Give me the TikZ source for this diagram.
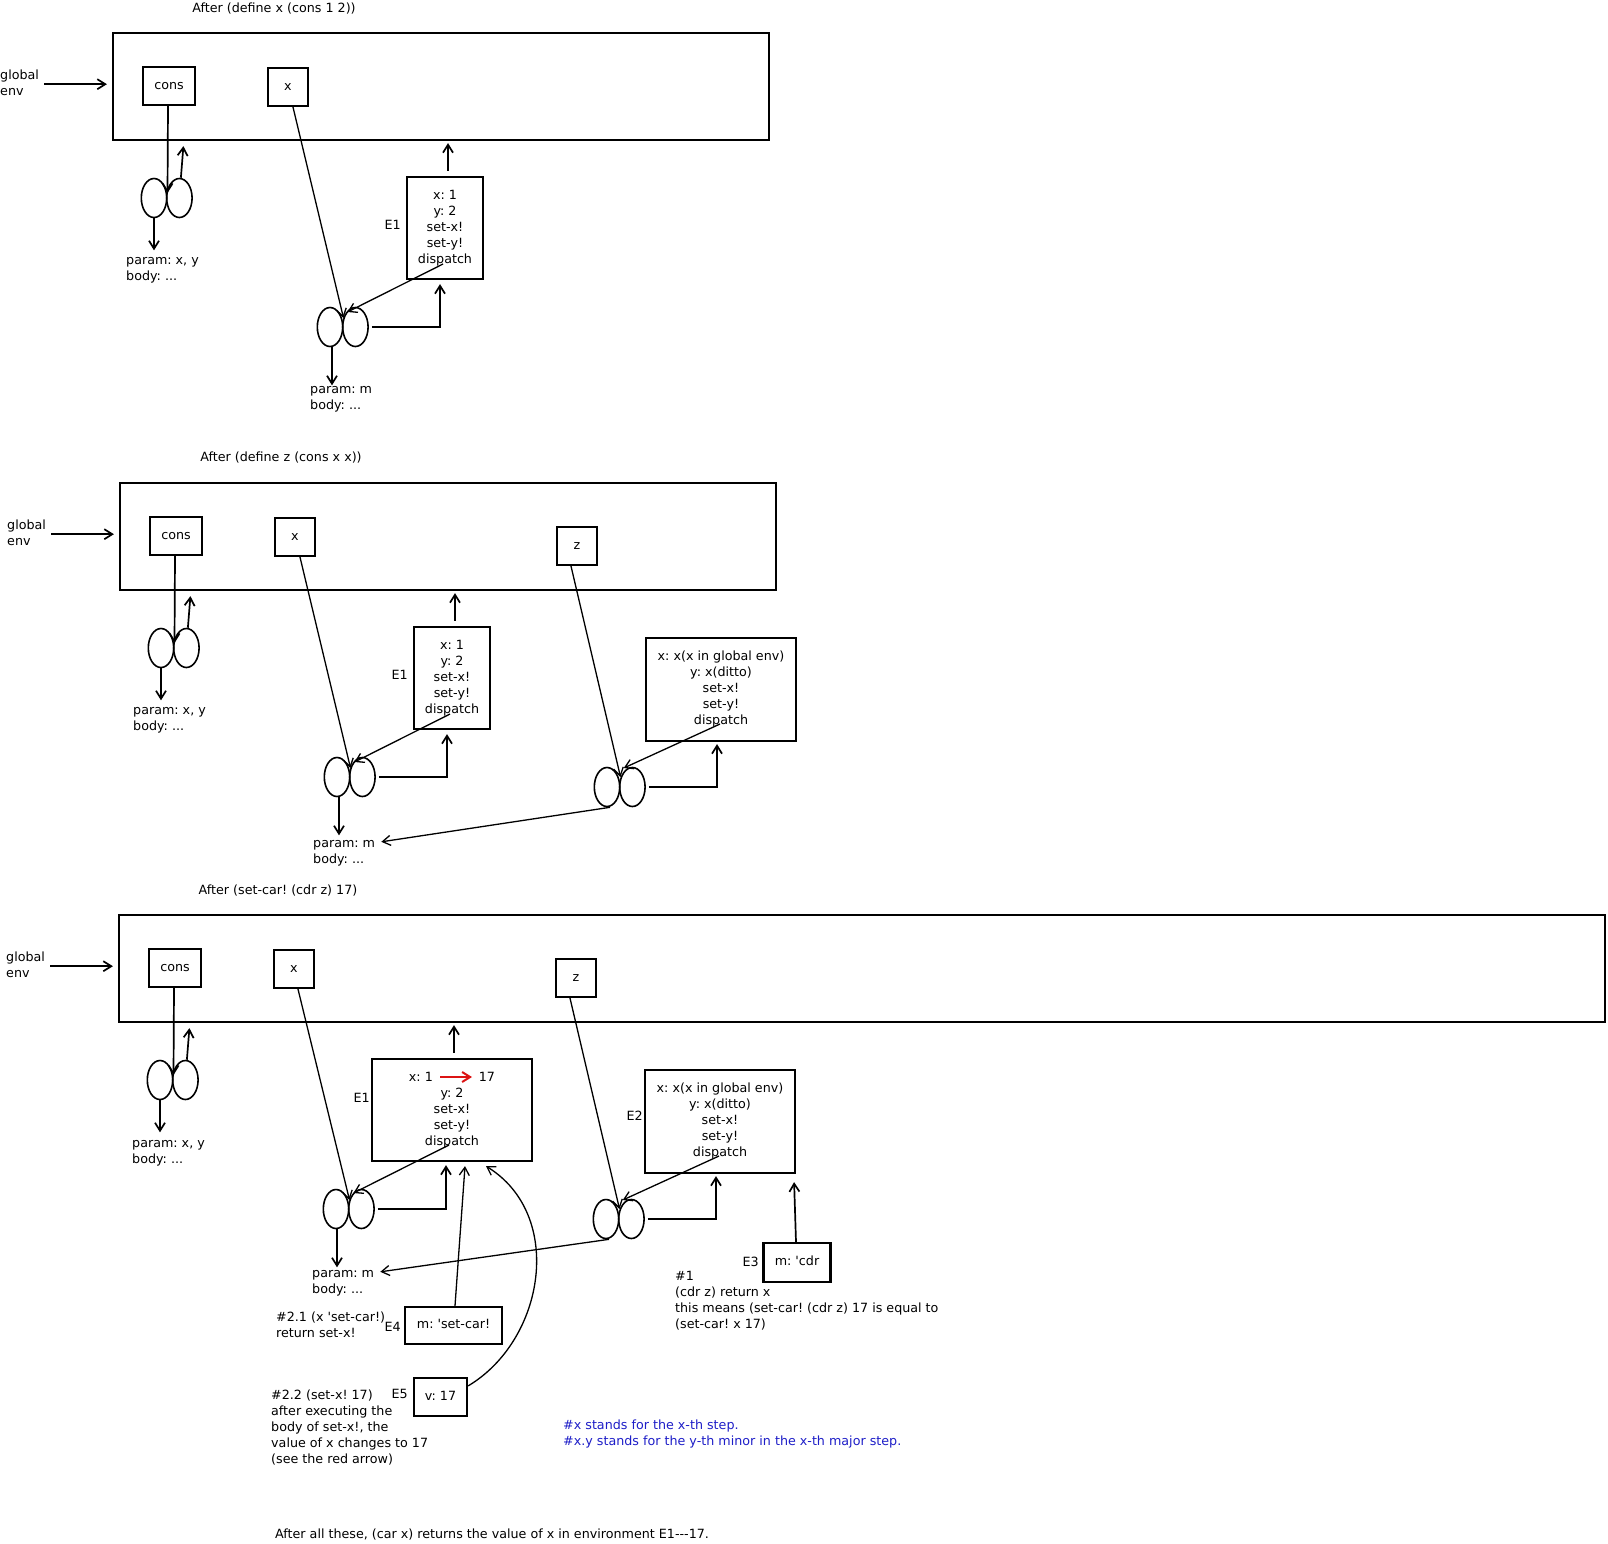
\documentclass[tikz,border=0pt]{standalone}
\usepackage{fontspec}
\newfontfamily\dvfam{DejaVu Sans}
\newcommand\diagfont{\dvfam\fontsize{12.7}{16}\selectfont\frenchspacing}
\usetikzlibrary{arrows.meta,shapes.geometric,calc}
\definecolor{noteblue}{RGB}{30,30,200}
\definecolor{arrred}{RGB}{220,20,20}
\begin{document}
\begin{tikzpicture}[x=1pt,y=-1pt,
  every node/.style={font=\diagfont, text=black},
  box/.style={draw, line width=2.2pt, inner sep=0pt, align=center},
  env/.style={draw, line width=2.2pt, inner sep=0pt},
  cell/.style={draw, ellipse, line width=1.6pt, minimum width=25.4pt, minimum height=39pt, inner sep=0pt},
  txt/.style={inner sep=0pt, anchor=north west, align=left},
  lbl/.style={inner sep=0pt, anchor=east},
  ttl/.style={inner sep=0pt, anchor=base},
  arr/.style={-{Straight Barb[length=8pt,width=10pt]}, line width=1.7pt},
  tarr/.style={-{Straight Barb[length=8pt,width=10pt]}, line width=1.3pt},
]
\fill[white] (0,0) rectangle (1608,1543);
\useasboundingbox (0,0) rectangle (1608,1543);

%================ Panel 1 ================
\node[ttl] (t1) at (274,12) {After (define x (cons 1 2))};
\node[env, minimum width=656pt, minimum height=107pt] (g1) at (441,86.5) {};
\node[txt] (ge1) at (0,68) {\strut global\\env\strut};
\draw[arr, shorten >=5pt] ($(ge1.east)+(5,0)$) -- (ge1.east -| g1.west);
\node[box, minimum width=52pt, minimum height=38pt] (c1) at (169,86) {\strut cons};
\node[box, minimum width=40pt, minimum height=38pt] (x1) at (288,87) {\strut x};
\node[cell] (a1l) at (154,198) {};
\node[cell] (a1r) at (179.4,198) {};
\draw[arr] ($(c1.south)+(-1,0)$) -- ($(a1l.east)+(0,-5)$);
\draw[arr] ($(a1r.north)+(1.5,0)$) -- ($(a1r.north |- g1.south)+(4,5)$);
\draw[arr] (a1l.south) -- ++(0,32);
\node[txt] (p1) at (126,253.5) {\strut param: x, y\\body: ...\strut};
\node[box, minimum width=76pt, minimum height=102pt] (e1) at (445,228) {\strut x: 1\\y: 2\\set-x!\\set-y!\\dispatch\strut};
\node[lbl] (l1) at (401,225) {E1};
\draw[arr, shorten >=2pt] ($(e1.north)+(3,-5)$) -- ($(e1.north |- g1.south)+(3,0)$);
\node[cell] (b1l) at (330,327) {};
\node[cell] (b1r) at (355.4,327) {};
\draw[tarr] ($(x1.south)+(5,0)$) -- ($(b1l.east)+(0,-9)$);
\draw[tarr] ($(e1.center)+(-2,36)$) -- ($(b1l.east)+(4,-15)$);
\draw[arr] ($(b1r.east)+(3,0)$) -| ($(e1.south)+(-5,4)$);
\draw[arr] ($(b1l.south)+(2,0)$) -- ++(0,38);
\node[txt] (p2) at (310,381.8) {\strut param: m\\body: ...\strut};

%================ Panel 2 ================
\node[ttl] (t2) at (281,461.5) {After (define z (cons x x))};
\node[env, minimum width=656pt, minimum height=107pt] (g2) at (448,536.5) {};
\node[txt] (ge2) at (7,518) {\strut global\\env\strut};
\draw[arr, shorten >=5pt] ($(ge2.east)+(5,0)$) -- (ge2.east -| g2.west);
\node[box, minimum width=52pt, minimum height=38pt] (c2) at (176,536) {\strut cons};
\node[box, minimum width=40pt, minimum height=38pt] (x2) at (295,537) {\strut x};
\node[box, minimum width=40pt, minimum height=38pt] (z2) at (577,546) {\strut z};
\node[cell] (a2l) at (161,648) {};
\node[cell] (a2r) at (186.4,648) {};
\draw[arr] ($(c2.south)+(-1,0)$) -- ($(a2l.east)+(0,-5)$);
\draw[arr] ($(a2r.north)+(1.5,0)$) -- ($(a2r.north |- g2.south)+(4,5)$);
\draw[arr] (a2l.south) -- ++(0,32);
\node[txt] (p3) at (133,703.5) {\strut param: x, y\\body: ...\strut};
\node[box, minimum width=76pt, minimum height=102pt] (e1b) at (452,678) {\strut x: 1\\y: 2\\set-x!\\set-y!\\dispatch\strut};
\node[lbl] (l1b) at (408,675) {E1};
\draw[arr, shorten >=2pt] ($(e1b.north)+(3,-5)$) -- ($(e1b.north |- g2.south)+(3,0)$);
\node[cell] (b2l) at (337,777) {};
\node[cell] (b2r) at (362.4,777) {};
\draw[tarr] ($(x2.south)+(5,0)$) -- ($(b2l.east)+(0,-9)$);
\draw[tarr] ($(e1b.center)+(-2,36)$) -- ($(b2l.east)+(4,-15)$);
\draw[arr] ($(b2r.east)+(3,0)$) -| ($(e1b.south)+(-5,4)$);
\draw[arr] ($(b2l.south)+(2,0)$) -- ++(0,38);
\node[txt] (p4) at (313,835.8) {\strut param: m\\body: ...\strut};
\node[cell] (d2l) at (607,787) {};
\node[cell] (d2r) at (632.4,787) {};
\node[box, minimum width=150pt, minimum height=103pt] (e2b) at (721,689.5) {\strut x: x(x in global env)\\y: x(ditto)\\set-x!\\set-y!\\dispatch\strut};
\draw[tarr] ($(z2.south)+(-6,0)$) -- ($(d2l.east)+(0,-10)$);
\draw[tarr] ($(e2b.center)+(-1,34.5)$) -- ($(d2l.east)+(3.3,-19)$);
\draw[arr] ($(d2r.east)+(3,0)$) -| ($(e2b.south)+(-4,2)$);
\draw[tarr] ($(d2l.south)+(3,0)$) -- ($(p4.north east)+(6,6)$);

%================ Panel 3 ================
\node[ttl] (t3) at (278,894.5) {After (set-car! (cdr z) 17)};
\node[env, minimum width=1486pt, minimum height=107pt] (g3) at (862,968.5) {};
\node[txt] (ge3) at (6,950) {\strut global\\env\strut};
\draw[arr, shorten >=5pt] ($(ge3.east)+(5,0)$) -- (ge3.east -| g3.west);
\node[box, minimum width=52pt, minimum height=38pt] (c3) at (175,968) {\strut cons};
\node[box, minimum width=40pt, minimum height=38pt] (x3) at (294,969) {\strut x};
\node[box, minimum width=40pt, minimum height=38pt] (z3) at (576,978) {\strut z};
\node[cell] (a3l) at (160,1080) {};
\node[cell] (a3r) at (185.4,1080) {};
\draw[arr] ($(c3.south)+(-1,0)$) -- ($(a3l.east)+(0,-5)$);
\draw[arr] ($(a3r.north)+(1.5,0)$) -- ($(a3r.north |- g3.south)+(4,5)$);
\draw[arr] (a3l.south) -- ++(0,32);
\node[txt] (p5) at (132,1135.8) {\strut param: x, y\\body: ...\strut};
\node[box, minimum width=160pt, minimum height=102pt] (e3) at (452,1110) {\strut x: 1\hspace{46pt}17\\y: 2\\set-x!\\set-y!\\dispatch\strut};
\node[lbl] (l3) at (370,1098) {E1};
\coordinate (ra1) at ($(e3.center)+(-12,-33)$);
\coordinate (ra2) at ($(e3.center)+(20,-33)$);
\draw[-{Straight Barb[length=8pt,width=10pt]}, line width=2pt, arrred] (ra1) -- (ra2);
\draw[arr, shorten >=2pt] ($(e3.north)+(2,-5)$) -- ($(e3.north |- g3.south)+(2,0)$);
\node[cell] (b3l) at (336,1209) {};
\node[cell] (b3r) at (361.4,1209) {};
\draw[tarr] ($(x3.south)+(4,0)$) -- ($(b3l.east)+(0,-9)$);
\draw[tarr] ($(e3.center)+(-3,35)$) -- ($(b3l.east)+(4,-16)$);
\draw[arr] ($(b3r.east)+(3,0)$) -| ($(e3.south)+(-6,3)$);
\draw[arr] ($(b3l.south)+(1,0)$) -- ++(0,38);
\node[txt] (p6) at (312,1265.8) {\strut param: m\\body: ...\strut};
\node[cell] (d3l) at (606,1219) {};
\node[cell] (d3r) at (631.4,1219) {};
\node[box, minimum width=150pt, minimum height=103pt] (e4) at (720,1121.5) {\strut x: x(x in global env)\\y: x(ditto)\\set-x!\\set-y!\\dispatch\strut};
\node[lbl] (l4) at (643,1116) {E2};
\draw[tarr] ($(z3.south)+(-6,0)$) -- ($(d3l.east)+(0,-10)$);
\draw[tarr] ($(e4.center)+(-1,34.5)$) -- ($(d3l.east)+(3.3,-19)$);
\draw[arr] ($(d3r.east)+(3,0)$) -| ($(e4.south)+(-4,2)$);
\draw[tarr] ($(d3l.south)+(3,0)$) -- ($(p6.north east)+(6,6)$);

\node[box, minimum width=67pt, minimum height=39pt] (e5) at (797,1262.5) {\strut m: 'cdr};
\node[lbl] (l5) at (759,1262) {E3};
\draw[arr] ($(e5.north)+(-1,0)$) -- ($(e4.south east)+(-2,8)$);
\node[txt] (n1) at (675,1268.8) {\strut\#1\\(cdr z) return x\\this means (set-car! (cdr z) 17 is equal to\\(set-car! x 17)\strut};

\node[box, minimum width=97pt, minimum height=37pt] (e6) at (453.5,1325.5) {\strut m: 'set-car!};
\node[lbl] (l6) at (401,1327) {E4};
\draw[tarr] ($(e6.north)+(1.5,0)$) -- ($(e3.south)+(13,4)$);
\node[txt] (n21) at (276,1309.8) {\strut\#2.1 (x 'set-car!)\\return set-x!\strut};

\node[box, minimum width=53pt, minimum height=38pt] (e7) at (440.5,1397) {\strut v: 17};
\node[lbl] (l7) at (408,1394) {E5};
\draw[tarr] ($(e7.north east)+(0,9)$) .. controls (545,1340) and (565,1215) .. ($(e3.south)+(34,4)$);
\node[txt] (n22) at (271,1387.8) {\strut\#2.2 (set-x! 17)\\after executing the\\body of set-x!, the\\value of x changes to 17\\(see the red arrow)\strut};

\node[txt, text=noteblue] (nb) at (563,1417.8) {\strut\#x stands for the x-th step.\\\#x.y stands for the y-th minor in the x-th major step.\strut};
\node[txt] (nend) at (275,1526.8) {\strut After all these, (car x) returns the value of x in environment E1---17.};
\end{tikzpicture}
\end{document}
